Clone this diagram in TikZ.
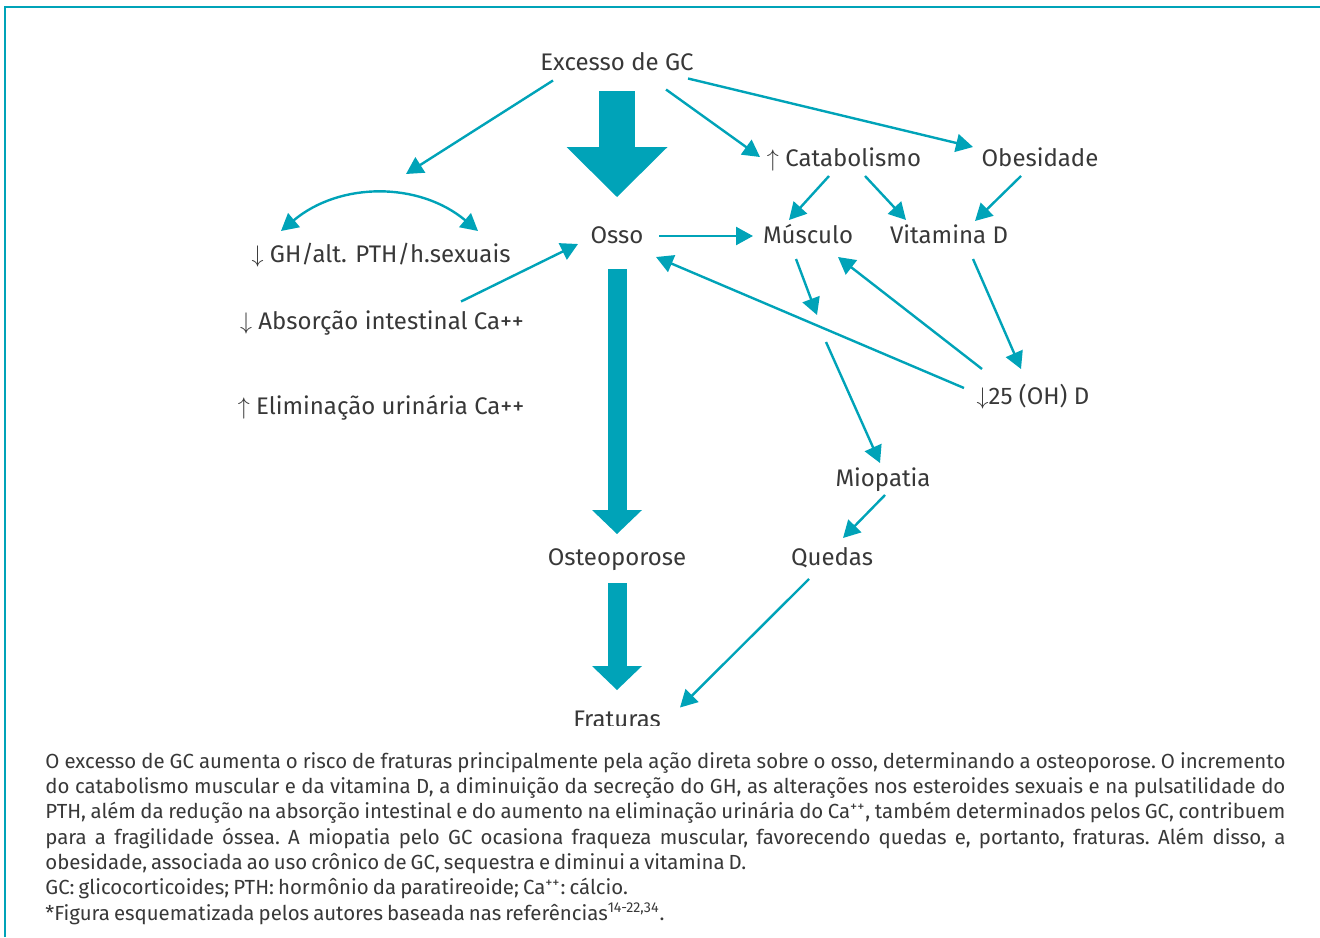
\documentclass[tikz,border=0pt]{standalone}
\usepackage{fontspec}
\setmainfont{Fira Sans}
\usetikzlibrary{arrows.meta}

\definecolor{gcteal}{HTML}{00A3B8}
\definecolor{txtgray}{HTML}{383838}

\begin{document}
\begin{tikzpicture}[x=0.5pt, y=-0.5pt,
    lbl/.style={text=txtgray, font=\fontsize{12}{15}\selectfont, inner sep=0pt, text height=8.3pt, text depth=0pt},
    thinarrow/.style={draw=gcteal, line width=1.2pt, -{Triangle[length=8.5pt, width=9pt]}},
    thinboth/.style={draw=gcteal, line width=1.2pt, {Triangle[length=8.5pt, width=9pt]}-{Triangle[length=8.5pt, width=9pt]}},
    bigwide/.style={draw=gcteal, line width=18pt, -{Triangle[length=25pt, width=50.5pt, line width=0pt]}},
    bignarrow/.style={draw=gcteal, line width=9.5pt, -{Triangle[length=12pt, width=25pt, line width=0pt]}}]

    % --- Dimensions ---
    \def\CapW{620pt}  % width of the justified caption

    \useasboundingbox (0,0) rectangle (1320,937);

    % --- Frame (top and left rule) ---
    \draw[gcteal, line width=1pt] (5,937) -- (5,7) -- (1320,7);

    % --- Nodes ---
    \node[lbl] (exc)  at (617,62.5) {Excesso de GC};
    \node[lbl] (gh)   at (381,254)  {$\downarrow$ GH/alt. PTH/h.sexuais};
    \node[lbl] (abs)  at (382,321.5) {$\downarrow$ Absorção intestinal Ca++};
    \node[lbl] (elim) at (381,406)  {$\uparrow$ Eliminação urinária Ca++};
    \node[lbl] (osso) at (617,235)  {Osso};
    \node[lbl] (cat)  at (844,158)  {$\uparrow$ Catabolismo};
    \node[lbl] (obe)  at (1040,158) {Obesidade};
    \node[lbl] (mus)  at (808,235)  {Músculo};
    \node[lbl] (vitd) at (949,235)  {Vitamina D};
    \node[lbl] (ohd)  at (1033,396) {$\downarrow$25 (OH) D};
    \node[lbl] (mio)  at (883,478)  {Miopatia};
    \node[lbl] (ost)  at (617,557)  {Osteoporose};
    \node[lbl] (que)  at (832,557)  {Quedas};

    % Fraturas is cut off at the bottom of the figure area
    \begin{scope}
        \clip (0,0) rectangle (1320,725);
        \node[lbl] (fra) at (617,719.5) {Fraturas};
    \end{scope}

    % --- Main path (thick arrows) ---
    \draw[bigwide]   ([shift={(0,28.5)}]exc.center) -- ([shift={(0,-38)}]osso.center);
    \draw[bignarrow] ([shift={(0,34)}]osso.center)  -- ([shift={(0,-23)}]ost.center);
    \draw[bignarrow] ([shift={(0,26)}]ost.center)   -- ([shift={(0,-29.5)}]fra.center);

    % --- Excesso de GC ---
    \draw[thinarrow] ([shift={(-64,18)}]exc.center) -- ([shift={(25,-80)}]gh.center);
    \draw[thinarrow] ([shift={(49,27)}]exc.center)  -- ([shift={(-84,-1)}]cat.center);
    \draw[thinarrow] ([shift={(71,16)}]exc.center)  -- ([shift={(-67,-11)}]obe.center);
    \draw[thinboth]  ([shift={(-100,-23)}]gh.center) to[bend left=40] ([shift={(97,-23)}]gh.center);

    % --- Left side ---
    \draw[thinarrow] ([shift={(79,-20)}]abs.center) -- ([shift={(-39,9)}]osso.center);

    % --- Right side ---
    \draw[thinarrow] ([shift={(-15,18)}]cat.center) -- ([shift={(-19,-15)}]mus.center);
    \draw[thinarrow] ([shift={(21,18)}]cat.center)  -- ([shift={(-43,-15)}]vitd.center);
    \draw[thinarrow] ([shift={(-19,18)}]obe.center) -- ([shift={(26,-14)}]vitd.center);
    \draw[thinarrow] ([shift={(42,1)}]osso.center)  -- ([shift={(-55,1)}]mus.center);
    \draw[thinarrow] ([shift={(24,24)}]vitd.center) -- ([shift={(-12,-27)}]ohd.center);
    \draw[thinarrow] ([shift={(-69,-8)}]ohd.center) -- ([shift={(39,22)}]osso.center);
    \draw[thinarrow] ([shift={(-51,-27)}]ohd.center) -- ([shift={(30,22)}]mus.center);

    % Musculo -> Miopatia, broken where the 25(OH)D line crosses
    \coordinate (gapA) at ([shift={(9,80)}]mus.center);
    \coordinate (gapB) at ([shift={(18,107)}]mus.center);
    \draw[thinarrow] ([shift={(-12,24)}]mus.center) -- (gapA);
    \draw[thinarrow] (gapB) -- ([shift={(-3,-15)}]mio.center);

    \draw[thinarrow] ([shift={(2,17)}]mio.center)   -- ([shift={(11,-19)}]que.center);
    \draw[thinarrow] ([shift={(-23,22)}]que.center) -- ([shift={(63,-12)}]fra.center);

    % --- Caption ---
    \node[anchor=north west, inner sep=0pt, text=txtgray, text width=\CapW, align=justify,
          font=\fontsize{10.2}{12.65}\selectfont] (cap) at (45,752) {%
        \frenchspacing\hyphenpenalty=10000\spaceskip=0.2em plus 0.3em minus 0.06em\relax
        O excesso de GC aumenta o risco de fraturas principalmente pela ação direta sobre o osso, determinando a osteoporose. O incremento\linebreak
        do catabolismo muscular e da vitamina D, a diminuição da secreção do GH, as alterações nos esteroides sexuais e na pulsatilidade do\linebreak
        PTH, além da redução na absorção intestinal e do aumento na eliminação urinária do Ca\textsuperscript{++}, também determinados pelos GC, contribuem\linebreak
        para a fragilidade óssea. A miopatia pelo GC ocasiona fraqueza muscular, favorecendo quedas e, portanto, fraturas. Além disso, a\linebreak
        obesidade, associada ao uso crônico de GC, sequestra e diminui a vitamina D.\\
        GC: glicocorticoides; PTH: hormônio da paratireoide; Ca\textsuperscript{++}: cálcio.\\
        {*}Figura esquematizada pelos autores baseada nas referências\textsuperscript{14-22,34}.};

\end{tikzpicture}
\end{document}
